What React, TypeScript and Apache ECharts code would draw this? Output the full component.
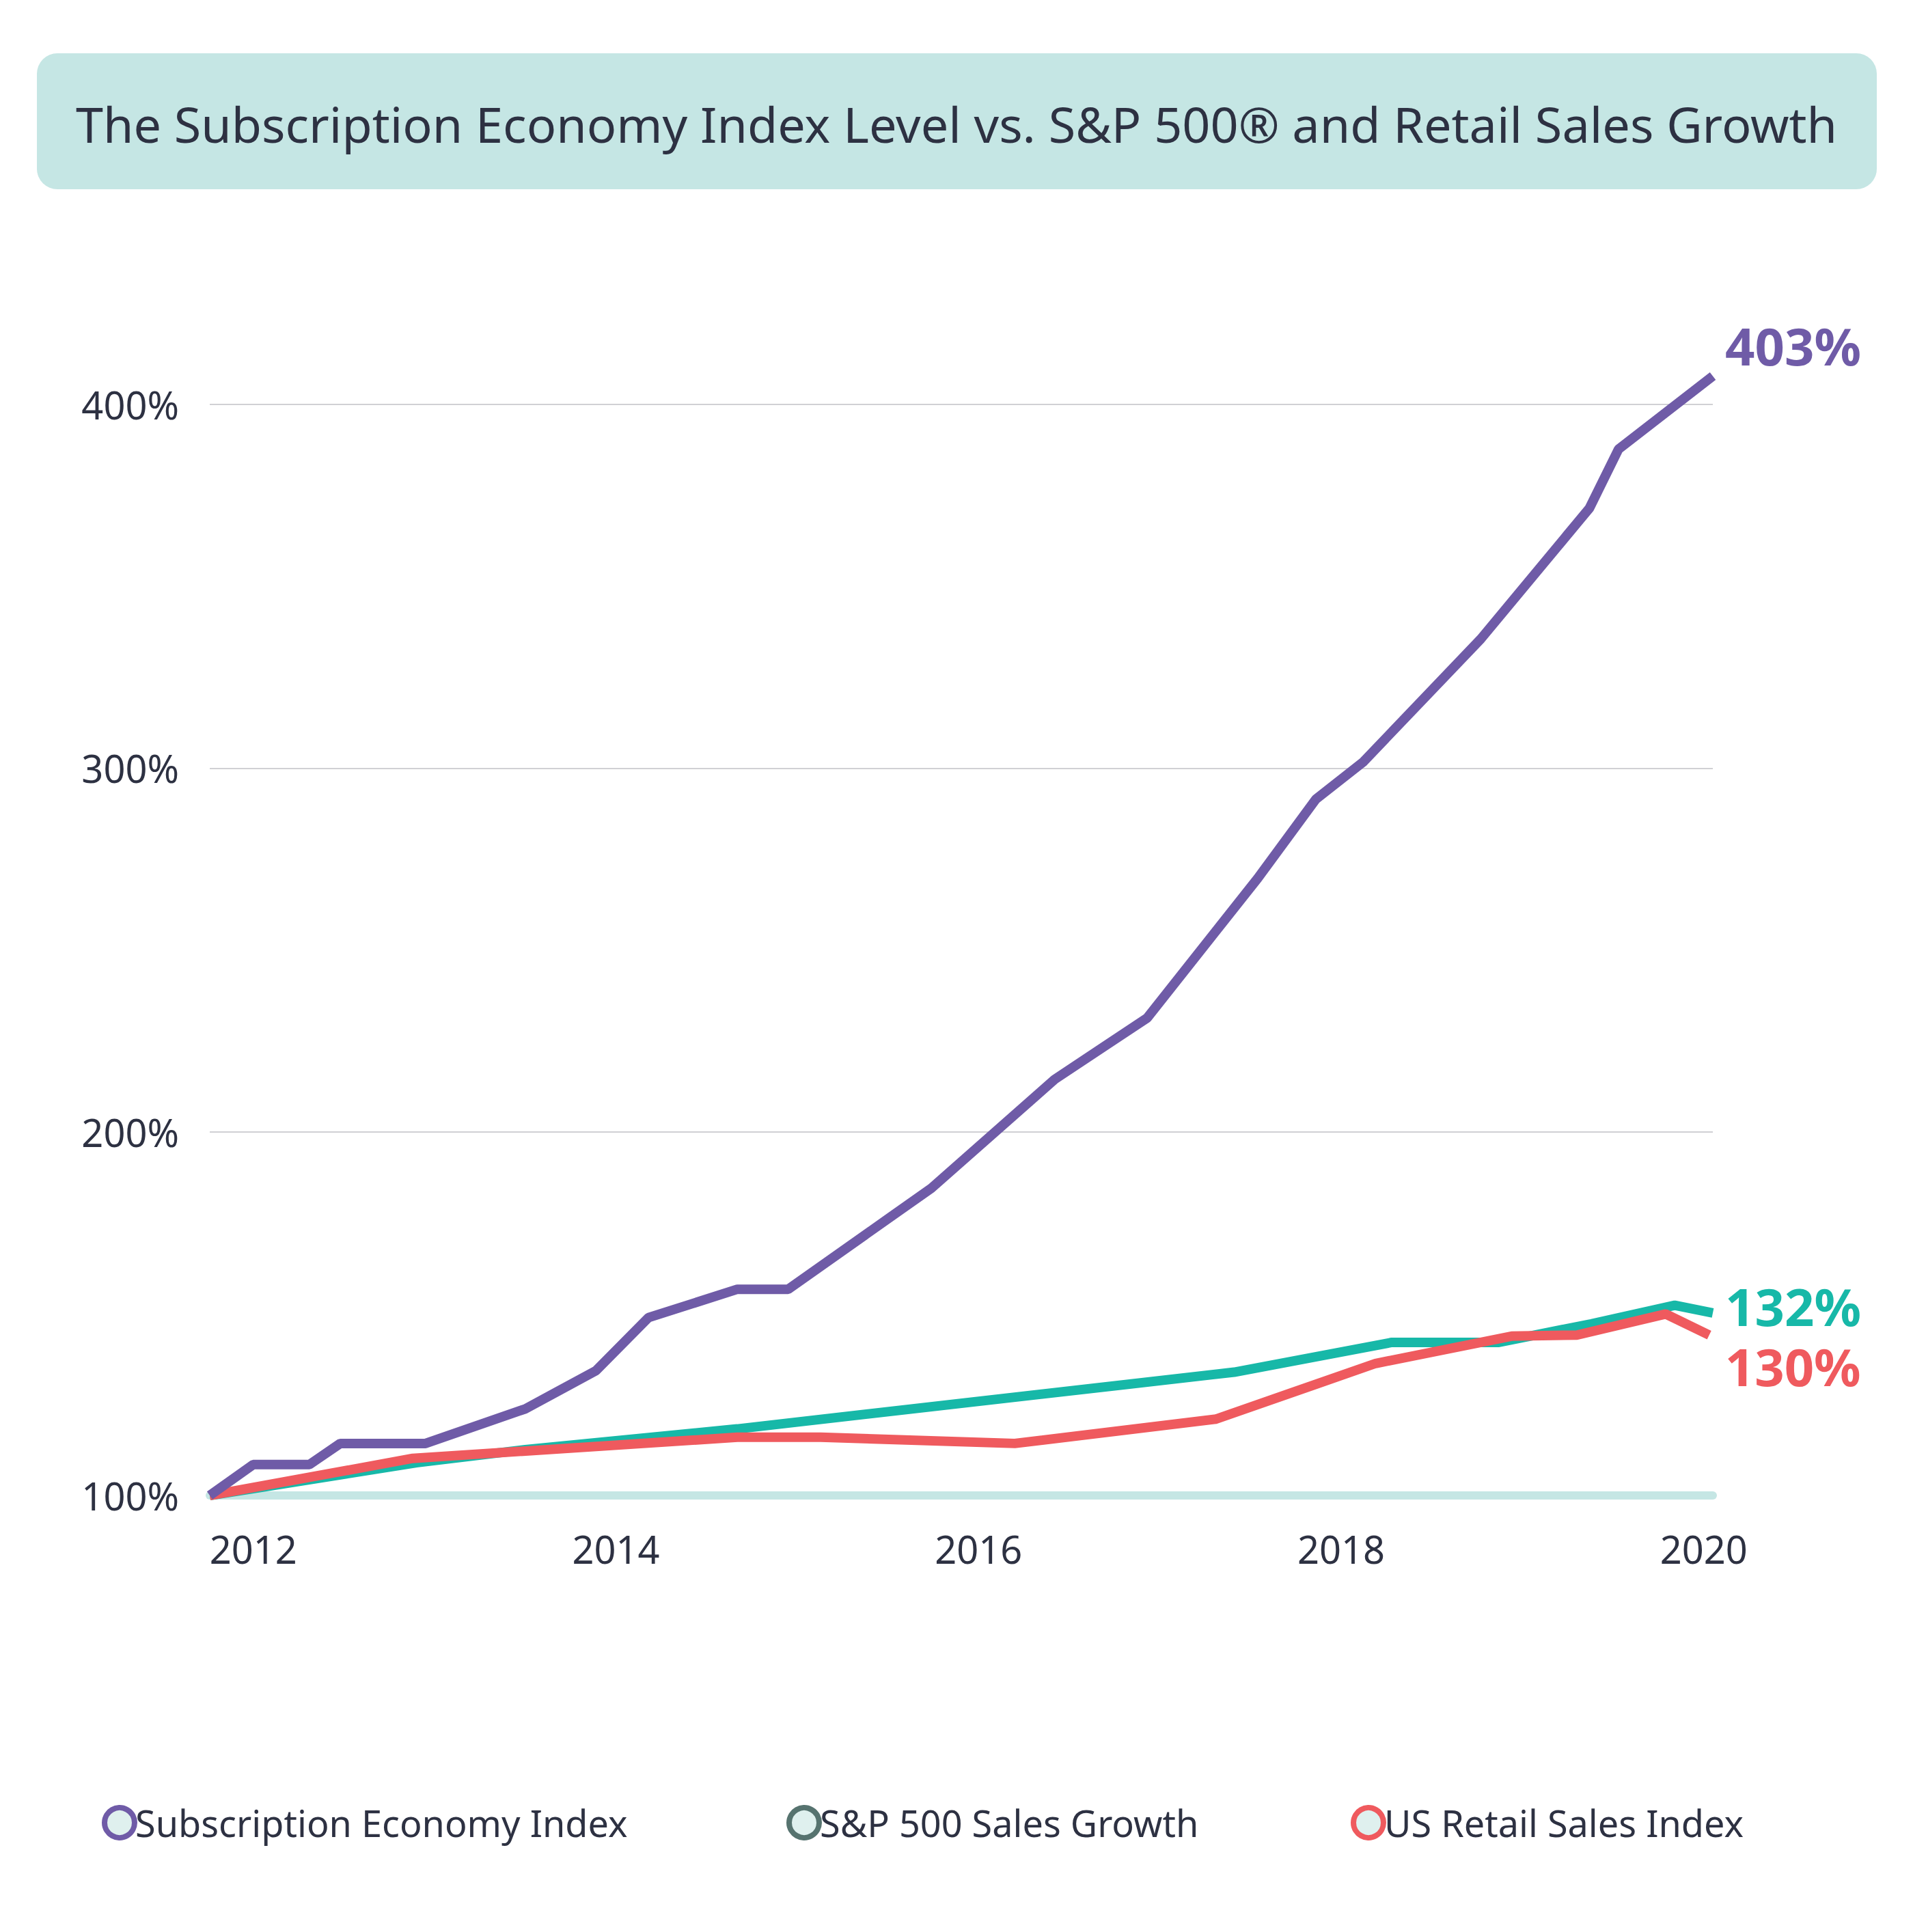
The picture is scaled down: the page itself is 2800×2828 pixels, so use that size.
import React, { useEffect, useRef } from "react";
import * as echarts from "echarts";

const subscriptionIndex: [number, number][] = [
  [2011.76, 100], [2012.0, 108.5], [2012.31, 108.5], [2012.48, 114.3], [2012.95, 114.3],
  [2013.5, 123.8], [2013.89, 134.3], [2014.18, 148.9], [2014.67, 156.7], [2014.95, 156.7],
  [2015.74, 184.5], [2016.42, 214.4], [2016.93, 231.3], [2017.54, 269.7], [2017.86, 291.4],
  [2018.12, 301.6], [2018.77, 335.5], [2019.37, 371.5], [2019.53, 387.7], [2020.05, 407.8],
];
const sp500Sales: [number, number][] = [
  [2011.76, 100], [2012.9, 109], [2013.5, 112.6], [2014.67, 118.3], [2017.41, 133.9],
  [2018.28, 142.1], [2018.87, 142.1], [2019.38, 147.2], [2019.84, 152.3], [2020.05, 150.2],
];
const usRetail: [number, number][] = [
  [2011.76, 100], [2012.88, 110.2], [2014.67, 116], [2015.13, 116], [2016.2, 114.3],
  [2017.31, 121], [2018.19, 136.3], [2018.94, 143.8], [2019.3, 144.1], [2019.79, 149.9],
  [2020.03, 144.1],
];
const yearTicks = [2012, 2014, 2016, 2018, 2020];
const endLabels = ["403%", "132%", "130%"];
const seriesNames = ["Subscription Economy Index", "S&P 500 Sales Growth", "US Retail Sales Index"];

const FONT = "'Noto Sans', sans-serif";
const DARK = "#2d3142";

const App = () => {
  const ref = useRef<HTMLDivElement>(null);

  useEffect(() => {
    document.body.style.margin = "0";
    if (!ref.current) return;
    const chart = echarts.init(ref.current, null, { renderer: "svg" });

    const mk = (name: string, data: [number, number][], color: string, label: string, offset: number[]) => ({
      name,
      type: "line",
      data,
      clip: false,
      showSymbol: false,
      symbol: "circle",
      lineStyle: { color, width: 14 },
      itemStyle: { color },
      endLabel: {
        show: true,
        formatter: label,
        color,
        fontFamily: FONT,
        fontWeight: "bold",
        fontSize: 76,
        offset,
      },
      emphasis: { disabled: true },
    });

    const legendAt = (name: string, left: number, border: string) => ({
      left, top: 2636, icon: "circle", itemWidth: 44, itemHeight: 44, itemGap: 10,
      data: [name],
      itemStyle: { color: "#dff0ee", borderColor: border, borderWidth: 8 },
      textStyle: { fontSize: 54, color: DARK, fontFamily: FONT, padding: [0, 0, 0, -4] },
    });

    chart.setOption({
      animation: false,
      backgroundColor: "#fff",
      textStyle: { fontFamily: FONT },
      graphic: [
        { type: "rect", shape: { x: 54, y: 78, width: 2693, height: 199, r: 30 }, style: { fill: "#c5e6e4" } },
        {
          type: "text", x: 1400, y: 181,
          style: {
            text: "The Subscription Economy Index Level vs. S&P 500® and Retail Sales Growth",
            fontSize: 72, fontFamily: FONT, fill: DARK, align: "center", verticalAlign: "middle",
          },
        },
      ],
      grid: { left: 307, right: 293, top: 592, bottom: 639 },
      legend: [
        legendAt(seriesNames[0], 144, "#6f5ba7"),
        legendAt(seriesNames[1], 1146, "#56736f"),
        legendAt(seriesNames[2], 1972, "#ef5a5e"),
      ],
      xAxis: {
        type: "value", min: 2011.76, max: 2020.05,
        axisLine: { show: true, lineStyle: { color: "#c5e6e4", width: 12 } },
        axisTick: { show: false },
        splitLine: { show: false },
        axisLabel: { customValues: yearTicks, color: DARK, fontSize: 56, margin: 50, fontFamily: FONT, formatter: (v: number) => String(v) },
      },
      yAxis: {
        type: "value", min: 100, max: 400, interval: 100,
        axisLine: { show: false }, axisTick: { show: false },
        splitLine: { lineStyle: { color: "#d0d0d4", width: 2 } },
        axisLabel: { color: DARK, fontSize: 56, margin: 45, fontFamily: FONT, formatter: "{value}%" },
      },
      series: [
        mk(seriesNames[1], sp500Sales, "#17b8a8", endLabels[1], [10, -10]),
        mk(seriesNames[2], usRetail, "#ef5a5e", endLabels[2], [15, 45]),
        mk(seriesNames[0], subscriptionIndex, "#6f5ba7", endLabels[0], [10, -45]),
      ],
    });

    return () => chart.dispose();
  }, []);

  return <div ref={ref} style={{ width: 2800, height: 2828 }} />;
};

export default App;
